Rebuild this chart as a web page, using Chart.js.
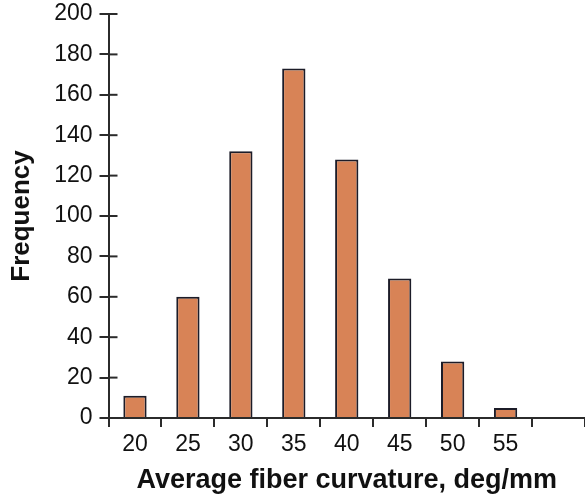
<!DOCTYPE html>
<html>
<head>
<meta charset="utf-8">
<script src="https://cdn.jsdelivr.net/npm/chart.js@4.4.0/dist/chart.umd.min.js"></script>
<style>
  html, body { margin: 0; padding: 0; background: #fff; }
  #wrap { width: 585px; height: 497px; position: relative; }
</style>
</head>
<body>
<div id="wrap"><canvas id="hist"></canvas></div>
<script>
// Histogram data
const binLabels = ['20', '25', '30', '35', '40', '45', '50', '55', ''];
const frequencies = [11, 60, 132, 173, 128, 69, 28, 5, null];
const yTicks = [0, 20, 40, 60, 80, 100, 120, 140, 160, 180, 200];

const axisColor = '#2b2b2b';
const fontFamily = '"Liberation Sans", Arial, Helvetica, sans-serif';

// y ticks also stick into the plot area a bit
const innerTicks = {
    id: 'innerTicks',
    afterDraw(chart) {
        const y = chart.scales.y;
        const ctx = chart.ctx;
        const left = chart.chartArea.left;
        ctx.save();
        ctx.strokeStyle = axisColor;
        ctx.lineWidth = 2;
        y.ticks.forEach((t, i) => {
            const py = y.getPixelForTick(i);
            ctx.beginPath();
            ctx.moveTo(left, py);
            ctx.lineTo(left + 9, py);
            ctx.stroke();
        });
        ctx.restore();
    }
};

const ctx = document.getElementById('hist').getContext('2d');
const histChart = new Chart(ctx, {
    type: 'bar',
    data: {
        labels: binLabels,
        datasets: [{
            data: frequencies,
            backgroundColor: '#d88356',
            borderColor: '#1c1c28',
            borderWidth: 2,
            categoryPercentage: 1.0,
            barPercentage: 0.44
        }]
    },
    options: {
        responsive: true,
        maintainAspectRatio: false,
        animation: false,
        layout: { padding: { top: 14, left: 2, right: 0, bottom: 0 } },
        plugins: {
            legend: { display: false },
            tooltip: { enabled: false }
        },
        scales: {
            x: {
                grid: {
                    drawOnChartArea: false,
                    drawTicks: true,
                    tickLength: 9,
                    color: axisColor,
                    lineWidth: 2,
                    offset: true
                },
                border: { display: true, color: axisColor, width: 2 },
                ticks: {
                    color: '#111',
                    padding: 4,
                    maxRotation: 0,
                    autoSkip: false,
                    font: { family: fontFamily, size: 23 }
                },
                title: {
                    display: true,
                    text: 'Average fiber curvature, deg/mm',
                    color: '#111',
                    padding: { top: 0, bottom: 0 },
                    font: { family: fontFamily, size: 27, weight: 'bold' }
                },
                afterFit(scale) {
                    scale.height = 79;
                    scale.paddingLeft = 0;
                    scale.paddingRight = 0;
                }
            },
            y: {
                min: 0,
                max: 200,
                afterBuildTicks(scale) {
                    scale.ticks = yTicks.map(v => ({ value: v }));
                },
                grid: {
                    drawOnChartArea: false,
                    drawTicks: true,
                    tickLength: 9,
                    color: axisColor,
                    lineWidth: 2
                },
                border: { display: true, color: axisColor, width: 2 },
                ticks: {
                    color: '#111',
                    padding: 7,
                    font: { family: fontFamily, size: 23 }
                },
                title: {
                    display: true,
                    text: 'Frequency',
                    color: '#111',
                    padding: { top: 4, bottom: 0 },
                    font: { family: fontFamily, size: 26, weight: 'bold' }
                },
                afterFit(scale) {
                    scale.width = 106.5;
                    scale.paddingTop = 0;
                    scale.paddingBottom = 0;
                }
            }
        }
    },
    plugins: [innerTicks]
});
</script>
</body>
</html>
